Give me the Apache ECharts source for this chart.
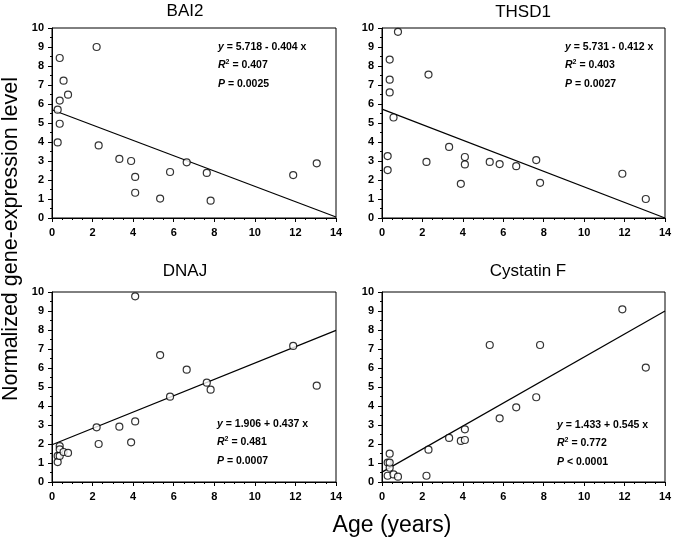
<!DOCTYPE html>
<html>
<head>
<meta charset="utf-8">
<script src="https://cdn.jsdelivr.net/npm/echarts@6/dist/echarts.min.js"></script>
<style>
  html, body { margin: 0; padding: 0; background: #fff; }
  #chart { width: 675px; height: 542px; }
</style>
</head>
<body>
<div id="chart"></div>
<script>
// ages of the 20 samples (years)
const ages = [0.28, 0.28, 0.38, 0.38, 0.38, 0.57, 0.79, 2.2, 2.3, 3.32, 3.9, 4.1, 4.1, 5.33, 5.82, 6.64, 7.63, 7.82, 11.89, 13.05]

// expression levels, same order as ages
const bai2 = [5.70, 3.98, 8.42, 6.18, 4.96, 7.23, 6.49, 9.0, 3.82, 3.11, 3.0, 2.16, 1.33, 1.02, 2.42, 2.93, 2.37, 0.91, 2.26, 2.88]
const thsd1 = [3.26, 2.52, 8.34, 7.28, 6.61, 5.29, 9.8, 2.95, 7.55, 3.74, 1.80, 3.21, 2.82, 2.95, 2.84, 2.73, 3.05, 1.85, 2.33, 1.0]
const dnaj = [1.37, 1.05, 1.89, 1.72, 1.37, 1.58, 1.53, 2.88, 2.0, 2.91, 2.09, 3.19, 9.77, 6.68, 4.49, 5.91, 5.23, 4.86, 7.16, 5.07]
const cystatinF = [1.02, 0.33, 1.49, 0.75, 1.02, 0.40, 0.28, 0.33, 1.70, 2.32, 2.16, 2.77, 2.21, 7.21, 3.35, 3.93, 4.46, 7.21, 9.09, 6.02]

// regression lines: x range and y at each end
const fitX = [0, 14]
const fitBai2 = [5.70, 0.05]
const fitThsd1 = [5.73, 0.0]
const fitDnaj = [1.96, 7.98]
const fitCystatinF = [0.52, 9.0]

const panelNames = ['BAI2', 'THSD1', 'DNAJ', 'Cystatin F']
const equations = ['5.718 - 0.404 x', '5.731 - 0.412 x', '1.906 + 0.437 x', '1.433 + 0.545 x']
const rSquared = ['0.407', '0.403', '0.481', '0.772']
const pValues = ['= 0.0025', '= 0.0027', '= 0.0007', '< 0.0001']

const xTicks = [0, 2, 4, 6, 8, 10, 12, 14]
const yTicks = [0, 1, 2, 3, 4, 5, 6, 7, 8, 9, 10]

const FONT = 'Liberation Sans, Arial, sans-serif'

const grids = [
  { left: 52, top: 28, width: 284, height: 190 },
  { left: 382, top: 28, width: 283, height: 190 },
  { left: 52, top: 292, width: 284, height: 190 },
  { left: 382, top: 292, width: 283, height: 190 }
]

const pointSets = [bai2, thsd1, dnaj, cystatinF]
const fitSets = [fitBai2, fitThsd1, fitDnaj, fitCystatinF]

// positions of titles and equation blocks
const titlePos = [[185, 11], [523, 12], [185, 271], [528, 271]]
const eqPos = [[218, 47], [565, 47], [217, 424], [557, 425]]

const xAxes = grids.map((g, i) => ({
  gridIndex: i,
  type: 'value',
  min: xTicks[0],
  max: xTicks[xTicks.length - 1],
  interval: 2,
  axisLine: { lineStyle: { color: '#000', width: 1 } },
  axisTick: { show: true, length: 4, lineStyle: { color: '#000' } },
  minorTick: { show: true, splitNumber: 4, length: 2, lineStyle: { color: '#000' } },
  splitLine: { show: false },
  axisLabel: { color: '#000', fontSize: 11, fontWeight: 'bold', fontFamily: FONT, margin: 9 }
}))

const yAxes = grids.map((g, i) => ({
  gridIndex: i,
  type: 'value',
  min: yTicks[0],
  max: yTicks[yTicks.length - 1],
  interval: 1,
  axisLine: { lineStyle: { color: '#000', width: 1 } },
  axisTick: { show: true, length: 4, lineStyle: { color: '#000' } },
  minorTick: { show: true, splitNumber: 2, length: 2, lineStyle: { color: '#000' } },
  splitLine: { show: false },
  axisLabel: { color: '#000', fontSize: 11, fontWeight: 'bold', fontFamily: FONT, margin: 8 }
}))

const series = []
pointSets.forEach((vals, i) => {
  series.push({
    type: 'scatter',
    xAxisIndex: i,
    yAxisIndex: i,
    symbol: 'circle',
    symbolSize: 7,
    itemStyle: { color: '#fff', borderColor: '#000', borderWidth: 1.2 },
    data: ages.map((a, k) => [a, vals[k]]),
    z: 3
  })
  series.push({
    type: 'line',
    xAxisIndex: i,
    yAxisIndex: i,
    symbol: 'none',
    lineStyle: { color: '#000', width: 1.2 },
    data: fitX.map((x, k) => [x, fitSets[i][k]]),
    z: 2
  })
})

const richBase = { fontSize: 10.5, fontWeight: 'bold', fontFamily: FONT, fill: '#000' }
const rich = {
  i: { fontSize: 10.5, fontWeight: 'bold', fontStyle: 'italic', fontFamily: FONT, color: '#000' },
  n: { fontSize: 10.5, fontWeight: 'bold', fontFamily: FONT, color: '#000' },
  s: { fontSize: 7, fontWeight: 'bold', fontFamily: FONT, color: '#000', padding: [0, 0, 7, 0] }
}

const graphics = []
panelNames.forEach((name, i) => {
  graphics.push({
    type: 'text',
    x: titlePos[i][0],
    y: titlePos[i][1],
    style: { text: name, fontSize: 17, fontFamily: FONT, fill: '#000', textAlign: 'center', textVerticalAlign: 'middle' }
  })
  const lines = [
    '{i|y}{n| = ' + equations[i] + '}',
    '{i|R}{s|2}{n| = ' + rSquared[i] + '}',
    '{i|P}{n| ' + pValues[i] + '}'
  ]
  lines.forEach((t, k) => {
    graphics.push({
      type: 'text',
      x: eqPos[i][0],
      y: eqPos[i][1] + k * 18.5,
      style: Object.assign({ text: t, rich: rich, textAlign: 'left', textVerticalAlign: 'middle' }, richBase)
    })
  })
})

graphics.push({
  type: 'text',
  x: 11,
  y: 239,
  rotation: Math.PI / 2,
  style: { text: 'Normalized gene-expression level', fontSize: 21.5, fontFamily: FONT, fill: '#000', textAlign: 'center', textVerticalAlign: 'middle' }
})
graphics.push({
  type: 'text',
  x: 392,
  y: 526,
  style: { text: 'Age (years)', fontSize: 23, fontFamily: FONT, fill: '#000', textAlign: 'center', textVerticalAlign: 'middle' }
})

const chart = echarts.init(document.getElementById('chart'), null, { renderer: 'canvas' })
chart.setOption({
  animation: false,
  backgroundColor: '#fff',
  grid: grids.map(g => Object.assign({ show: true, borderColor: '#000', borderWidth: 1, backgroundColor: 'transparent' }, g)),
  xAxis: xAxes,
  yAxis: yAxes,
  series: series,
  graphic: graphics
})
</script>
</body>
</html>
